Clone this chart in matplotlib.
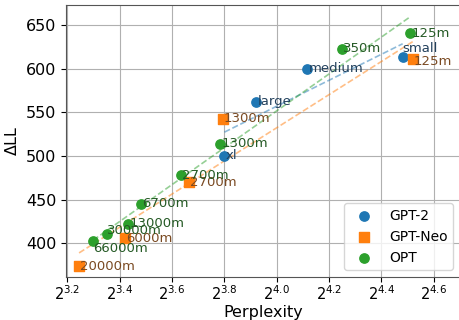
import numpy as np
import matplotlib
matplotlib.use('Agg')
import matplotlib.pyplot as plt
from matplotlib.ticker import FixedLocator, FixedFormatter, NullLocator

######################################## data ########################################
gpt2_names = ['small', 'medium', 'large', 'xl']
gpt2_ppl = [22.33, 17.34, 15.16, 13.93]
gpt2_dll = [613.8, 600.0, 562.0, 500.0]

neo_names = ['125m', '1300m', '2700m', '6000m', '20000m']
neo_ppl = [22.93, 13.86, 12.68, 10.70, 9.48]
neo_dll = [611.5, 542.5, 470.0, 405.7, 373.6]

opt_names = ['125m', '350m', '1300m', '2700m', '6700m', '13000m', '30000m', '66000m']
opt_ppl = [22.75, 19.01, 13.76, 12.41, 11.17, 10.79, 10.21, 9.84]
opt_dll = [641.0, 623.0, 514.0, 478.0, 445.0, 422.0, 410.0, 402.0]

xtick_exp = ['3.2', '3.4', '3.6', '3.8', '4.0', '4.2', '4.4', '4.6']
yticks = [400, 450, 500, 550, 600, 650]

######################################## plot ########################################
fig = plt.figure(figsize=(4.6, 3.2), dpi=100)
ax = fig.add_axes([0.1435, 0.134, 0.8565, 0.85])

series = [
    ('GPT-2', gpt2_names, gpt2_ppl, gpt2_dll, 'o', '#1f77b4', '#22405c'),
    ('GPT-Neo', neo_names, neo_ppl, neo_dll, 's', '#ff7f0e', '#7a4a22'),
    ('OPT', opt_names, opt_ppl, opt_dll, 'o', '#2ca02c', '#255a25'),
]

# label nudges (points)
offsets = {('GPT-2', 'small'): (0, 6), ('GPT-Neo', '125m'): (1, -2),
           ('OPT', '66000m'): (0, -5), ('OPT', '30000m'): (0, 3)}

for name, labels, ppl, dll, marker, col, tcol in series:
    ppl = np.array(ppl)
    dll = np.array(dll)
    ms = 52 if marker == 's' else 45
    ax.scatter(ppl, dll, marker=marker, s=ms, color=col, label=name, zorder=3)
    # linear fit in log2 space
    lx = np.log2(ppl)
    a, b = np.polyfit(lx, dll, 1)
    xs = np.linspace(lx.min(), lx.max(), 50)
    ax.plot(2 ** xs, a * xs + b, '--', color=col, alpha=0.5, lw=1.2, zorder=2)
    for lab, x, y in zip(labels, ppl, dll):
        off = offsets.get((name, lab), (1, 0))
        ax.annotate(lab, (x, y), xytext=off, textcoords='offset points',
                    ha='left', va='center', fontsize=9.5, color=tcol, zorder=4)

ax.set_xscale('log', base=2)
ax.set_xlim(2 ** 3.195, 2 ** 4.70)
ax.set_ylim(361, 673)
xt = [2 ** float(e) for e in xtick_exp]
ax.xaxis.set_major_locator(FixedLocator(xt))
ax.xaxis.set_major_formatter(FixedFormatter(['$2^{%s}$' % e for e in xtick_exp]))
ax.xaxis.set_minor_locator(NullLocator())
ax.set_yticks(yticks)
ax.tick_params(axis='y', labelsize=11.5)
ax.tick_params(axis='x', labelsize=10.5, pad=2)
ax.grid(True, color='#b0b0b0', lw=0.8)
ax.set_axisbelow(True)
for s in ax.spines.values():
    s.set_color('#555555')

ax.set_xlabel('Perplexity', fontsize=11.5, labelpad=1)
ax.set_ylabel('ΔLL', fontsize=11.5)
ax.legend(loc='lower right', fontsize=10)

fig.savefig('out.png', dpi=100)
